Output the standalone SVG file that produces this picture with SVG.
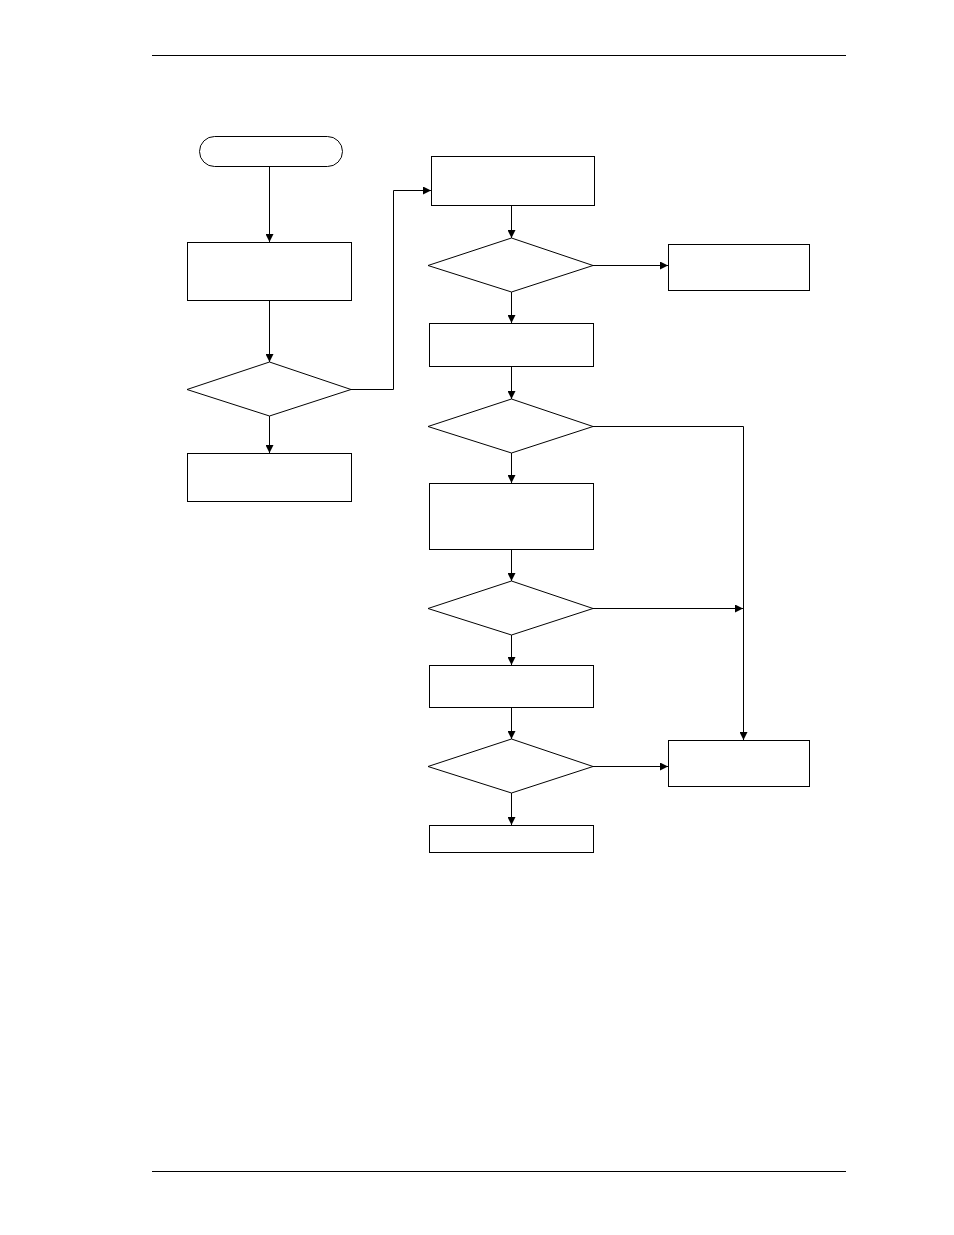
<svg xmlns="http://www.w3.org/2000/svg" width="954" height="1235" viewBox="0 0 954 1235">
<defs>
<style>
.n{fill:#fff;stroke:#000;stroke-width:1}
.c{fill:none;stroke:#000;stroke-width:1}
</style>
<marker id="ah" viewBox="0 0 8 8" refX="8" refY="4" markerWidth="8" markerHeight="8" markerUnits="userSpaceOnUse" orient="auto">
<path d="M0,0 L8,4 L0,8 Z" fill="#000"/>
</marker>
</defs>
<rect width="954" height="1235" fill="#fff"/>
<g id="page-rules">
<line x1="152" y1="55.5" x2="846" y2="55.5" stroke="#000" stroke-width="1"/>
<line x1="152" y1="1171.5" x2="846" y2="1171.5" stroke="#000" stroke-width="1"/>
</g>
<g id="connectors">
<path class="c" d="M269.5,167 V242" marker-end="url(#ah)"/>
<path class="c" d="M269.5,301 V362" marker-end="url(#ah)"/>
<path class="c" d="M269.5,416 V453" marker-end="url(#ah)"/>
<path class="c" d="M351,389.5 H393.5 V190.5 H431" marker-end="url(#ah)"/>
<path class="c" d="M511.5,205 V238" marker-end="url(#ah)"/>
<path class="c" d="M593,265.5 H668" marker-end="url(#ah)"/>
<path class="c" d="M511.5,292 V323" marker-end="url(#ah)"/>
<path class="c" d="M511.5,366 V399" marker-end="url(#ah)"/>
<path class="c" d="M593,426.5 H743.5 V740" marker-end="url(#ah)"/>
<path class="c" d="M511.5,453 V483" marker-end="url(#ah)"/>
<path class="c" d="M511.5,549 V581" marker-end="url(#ah)"/>
<path class="c" d="M593,608.5 H743" marker-end="url(#ah)"/>
<path class="c" d="M511.5,635 V665" marker-end="url(#ah)"/>
<path class="c" d="M511.5,707 V739" marker-end="url(#ah)"/>
<path class="c" d="M593,766.5 H668" marker-end="url(#ah)"/>
<path class="c" d="M511.5,793 V825" marker-end="url(#ah)"/>
</g>
<g id="start"><rect class="n" x="199.5" y="136.5" width="143" height="30" rx="15"/></g>
<g id="box-a"><rect class="n" x="187.5" y="242.5" width="164" height="58"/></g>
<g id="dec-1"><polygon class="n" points="269.5,362 351,389.5 269.5,416 187,389.5"/></g>
<g id="box-b"><rect class="n" x="187.5" y="453.5" width="164" height="48"/></g>
<g id="box-c"><rect class="n" x="431.5" y="156.5" width="163" height="49"/></g>
<g id="dec-2"><polygon class="n" points="511.5,238 593,265.5 511.5,292 428,265.5"/></g>
<g id="box-d"><rect class="n" x="668.5" y="244.5" width="141" height="46"/></g>
<g id="box-e"><rect class="n" x="429.5" y="323.5" width="164" height="43"/></g>
<g id="dec-3"><polygon class="n" points="511.5,399 593,426.5 511.5,453 428,426.5"/></g>
<g id="box-g"><rect class="n" x="429.5" y="483.5" width="164" height="66"/></g>
<g id="dec-4"><polygon class="n" points="511.5,581 593,608.5 511.5,635 428,608.5"/></g>
<g id="box-h"><rect class="n" x="429.5" y="665.5" width="164" height="42"/></g>
<g id="dec-5"><polygon class="n" points="511.5,739 593,766.5 511.5,793 428,766.5"/></g>
<g id="box-f"><rect class="n" x="668.5" y="740.5" width="141" height="46"/></g>
<g id="box-i"><rect class="n" x="429.5" y="825.5" width="164" height="27"/></g>
</svg>
